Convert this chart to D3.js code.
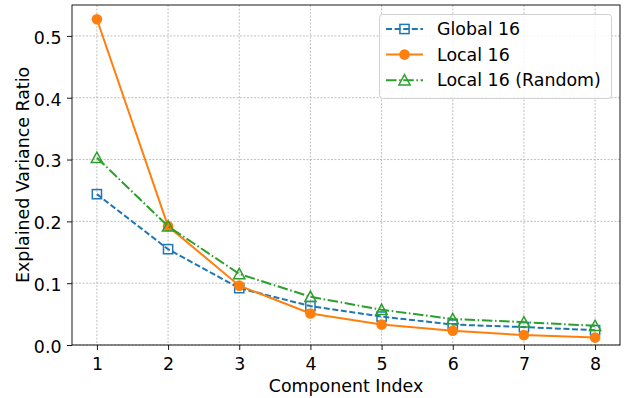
<!DOCTYPE html>
<html><head><meta charset="utf-8">
<script src="https://cdn.jsdelivr.net/npm/d3@7"></script>
<style>body{margin:0;background:#fff}svg{font-family:"DejaVu Sans",sans-serif}</style>
</head><body><svg id="c" width="627" height="398"></svg>
<script>
const components = [1,2,3,4,5,6,7,8];
const globalVals = [0.244,0.155,0.092,0.063,0.046,0.033,0.029,0.024];
const localVals = [0.527,0.192,0.096,0.051,0.033,0.023,0.016,0.012];
const randomVals = [0.303,0.192,0.115,0.078,0.057,0.042,0.037,0.031];
const yTicks = [0.0,0.1,0.2,0.3,0.4,0.5];
const seriesNames = ["Global 16","Local 16","Local 16 (Random)"];

const FS = 17.4;
const svg = d3.select("#c");
const L=72,R=620,T=5,B=345;
const x = d3.scaleLinear().domain([0.65,8.35]).range([L,R]);
const y = d3.scaleLinear().domain([0,0.55]).range([B,T]);

// grid
const g = svg.append("g");
g.selectAll(".gx").data(components).enter().append("line")
 .attr("x1",d=>x(d)).attr("x2",d=>x(d)).attr("y1",T).attr("y2",B)
 .attr("stroke","#b0b0b0").attr("stroke-width",0.8).attr("stroke-dasharray","2,1.5");
g.selectAll(".gy").data(yTicks).enter().append("line")
 .attr("x1",L).attr("x2",R).attr("y1",d=>y(d)).attr("y2",d=>y(d))
 .attr("stroke","#b0b0b0").attr("stroke-width",0.8).attr("stroke-dasharray","2,1.5");

const series = [
 {name:seriesNames[0], vals:globalVals, color:"#1f77b4", dash:"6,2.6", marker:"square"},
 {name:seriesNames[1], vals:localVals, color:"#ff7f0e", dash:null, marker:"circle"},
 {name:seriesNames[2], vals:randomVals, color:"#2ca02c", dash:"10.5,2.6,1.6,2.6", marker:"triangle"}
];
const line = d3.line().x((d,i)=>x(components[i])).y(d=>y(d));

function drawMarker(sel, type, color, cx, cy){
  if(type==="circle"){
    sel.append("circle").attr("cx",cx).attr("cy",cy).attr("r",5.3).attr("fill",color);
  } else if(type==="square"){
    sel.append("rect").attr("x",cx-4.6).attr("y",cy-4.6).attr("width",9.2).attr("height",9.2)
      .attr("fill","none").attr("stroke",color).attr("stroke-width",1.5);
  } else {
    const s=5.6;
    sel.append("path").attr("d",`M${cx},${cy-s}L${cx+s},${cy+s*0.85}L${cx-s},${cy+s*0.85}Z`)
      .attr("fill","none").attr("stroke",color).attr("stroke-width",1.5);
  }
}

const plot = svg.append("g");
series.forEach(s=>{
  plot.append("path").attr("d",line(s.vals)).attr("fill","none").attr("stroke",s.color)
    .attr("stroke-width",2).attr("stroke-dasharray",s.dash);
  s.vals.forEach((v,i)=>drawMarker(plot,s.marker,s.color,x(components[i]),y(v)));
});

// axes
const xa = svg.append("g").attr("transform",`translate(0,${B})`)
 .call(d3.axisBottom(x).tickValues(components).tickSize(5).tickPadding(7.5).tickFormat(d3.format("d")));
const ya = svg.append("g").attr("transform",`translate(${L},0)`)
 .call(d3.axisLeft(y).tickValues(yTicks).tickSize(5).tickPadding(5.5).tickFormat(d3.format(".1f")));
ya.selectAll("text").attr("dy","0.42em");
[xa,ya].forEach(a=>{a.select(".domain").remove();a.selectAll("text").attr("font-size",FS).attr("fill","#000").attr("font-family","DejaVu Sans");a.selectAll("line").attr("stroke","#000").attr("stroke-width",0.9);});
svg.append("rect").attr("x",L).attr("y",T).attr("width",R-L).attr("height",B-T)
 .attr("fill","none").attr("stroke","#000").attr("stroke-width",0.9);

svg.append("text").attr("x",(L+R)/2).attr("y",392).attr("text-anchor","middle")
 .attr("font-size",FS).text("Component Index");
svg.append("text").attr("transform",`translate(29,${(T+B)/2}) rotate(-90)`).attr("text-anchor","middle")
 .attr("font-size",FS).text("Explained Variance Ratio");

// legend
const lg = svg.append("g");
lg.append("rect").attr("x",379.5).attr("y",14.5).attr("width",232).attr("height",84).attr("rx",3)
 .attr("fill","#fff").attr("fill-opacity",0.8).attr("stroke","#ccc").attr("stroke-width",0.9);
series.forEach((s,i)=>{
  const yy = 29+i*25.6;
  lg.append("line").attr("x1",386).attr("x2",423).attr("y1",yy).attr("y2",yy)
    .attr("stroke",s.color).attr("stroke-width",2).attr("stroke-dasharray",s.dash);
  drawMarker(lg,s.marker,s.color,404.5,yy);
  lg.append("text").attr("x",437).attr("y",yy+6).attr("font-size",FS).text(s.name);
});
</script></body></html>
